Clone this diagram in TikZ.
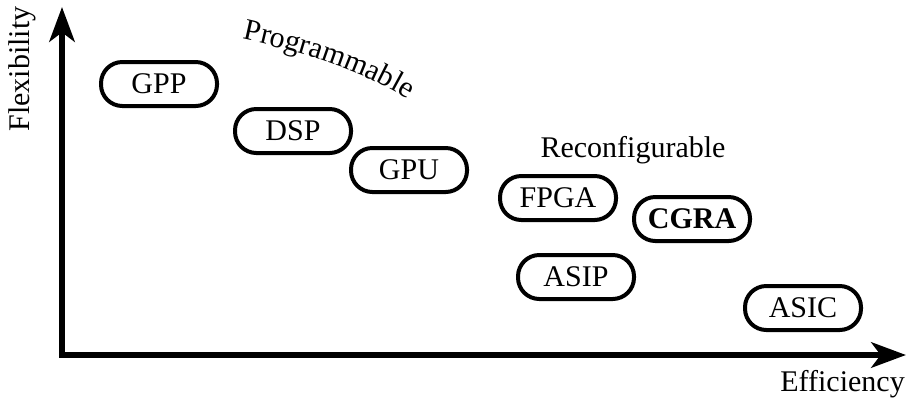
\documentclass[tikz,border=0pt]{standalone}
\usepackage{fontspec}
\setmainfont{Liberation Serif}
\usetikzlibrary{arrows.meta,decorations.text}

\tikzset{
  chip/.style={draw, line width=3pt, rounded corners=16pt, minimum width=87pt,
    minimum height=33pt, inner sep=0pt, font=\fontsize{22.5}{27}\selectfont},
  axis/.style={line width=4.5pt, {Stealth[length=26pt,width=19pt,inset=7pt]}-{Stealth[length=26pt,width=19pt,inset=7pt]}},
  lbl/.style={inner sep=0pt, font=\fontsize{22.5}{27}\selectfont}
}

\begin{document}
\begin{tikzpicture}[x=0.75pt,y=0.75pt]
\useasboundingbox (0,0) rectangle (911,401);

%Axes
\coordinate (origin) at (62,46);
\coordinate (ytip) at (62,394);
\coordinate (xtip) at (906,46);
\draw [axis] (ytip) -- (origin) -- (xtip);

% Text Node
\node [lbl, rotate=90] (flex) at (22,332) {Flexibility};
\node [lbl, anchor=east] (eff) at (905,17) {Efficiency};

%Processors
\node [chip] (gpp) at (159,317) {GPP};
\node [chip] (dsp) at (293,270) {DSP};
\node [chip] (gpu) at (409,231) {GPU};
\node [chip] (fpga) at (558,203) {FPGA};
\node [chip, font=\fontsize{22.5}{27}\selectfont\bfseries] (cgra) at (692,182) {CGRA};
\node [chip] (asip) at (576,124) {ASIP};
\node [chip] (asic) at (803,93) {ASIC};

% Text Node
\node [lbl] (reconf) at (633,251) {Reconfigurable};
\path [decorate, decoration={text along path, text align=center,
  text={|\fontsize{22.5}{27}\selectfont|Programmable}}]
  (238,363) .. controls (290,352) and (360,333) .. (412,299);

\end{tikzpicture}
\end{document}
